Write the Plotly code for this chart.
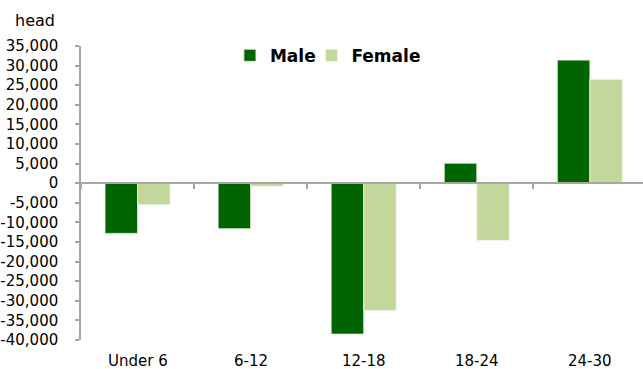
import plotly.graph_objects as go

# Change in headcount by age group
categories = ["Under 6", "6-12", "12-18", "18-24", "24-30"]
male = [-12800, -11600, -38500, 5100, 31400]
female = [-5500, -800, -32500, -14600, 26500]
y_ticks = list(range(-40000, 35001, 5000))
y_tick_labels = [f"{v:,}" for v in y_ticks]

y_min, y_max = -40000, 35000
zero_pos = (0 - y_min) / (y_max - y_min)

font_family = "DejaVu Sans"
axis_grey = "#A6A6A6"

fig = go.Figure()
fig.add_trace(go.Bar(
    name="Male", x=categories, y=male, legend="legend",
    marker=dict(color="#006400", line=dict(color="#E8F0E0", width=0.8)),
))
fig.add_trace(go.Bar(
    name="Female", x=categories, y=female, legend="legend2",
    marker=dict(color="#C4D79B", line=dict(color="#F0F5E6", width=0.8)),
))

# category labels along the bottom edge
annotations = [
    dict(x=c, y=0, xref="x", yref="paper", text=c, showarrow=False,
         yanchor="top", yshift=-10, font=dict(family=font_family, size=15, color="#000"))
    for c in categories
]
annotations.append(dict(
    x=0, y=1, xref="paper", yref="paper", text="head", showarrow=False,
    xanchor="left", yanchor="bottom", xshift=-68, yshift=14,
    font=dict(family=font_family, size=16, color="#000"),
))

legend_style = dict(
    orientation="h", xanchor="left", y=1.028, yanchor="top",
    font=dict(family=font_family, size=17, color="#000", weight="bold"),
    bgcolor="rgba(0,0,0,0)", itemclick=False,
)

fig.update_layout(
    width=643, height=369,
    margin=dict(l=81, r=0, t=46, b=29),
    paper_bgcolor="white", plot_bgcolor="white",
    barmode="group", bargap=0.425, bargroupgap=0,
    font=dict(family=font_family, size=15, color="#000"),
    showlegend=True,
    legend=dict(x=0.265, **legend_style),
    legend2=dict(x=0.41, **legend_style),
    xaxis=dict(
        type="category", range=[-0.5, 4.47],
        anchor="free", position=zero_pos,
        showline=True, linecolor=axis_grey, linewidth=1.5,
        ticks="outside", tickson="boundaries", ticklen=5, tickcolor=axis_grey, tickwidth=1.5,
        showticklabels=False, showgrid=False, zeroline=False,
    ),
    yaxis=dict(
        range=[y_min, y_max], tickvals=y_ticks, ticktext=y_tick_labels,
        showline=True, linecolor=axis_grey, linewidth=1.5,
        ticks="outside", ticklen=4, tickcolor=axis_grey, tickwidth=1.5,
        ticklabelstandoff=14,
        showgrid=False, zeroline=False,
        tickfont=dict(family=font_family, size=15, color="#000"),
    ),
    annotations=annotations,
)

fig.write_html("out.html")
